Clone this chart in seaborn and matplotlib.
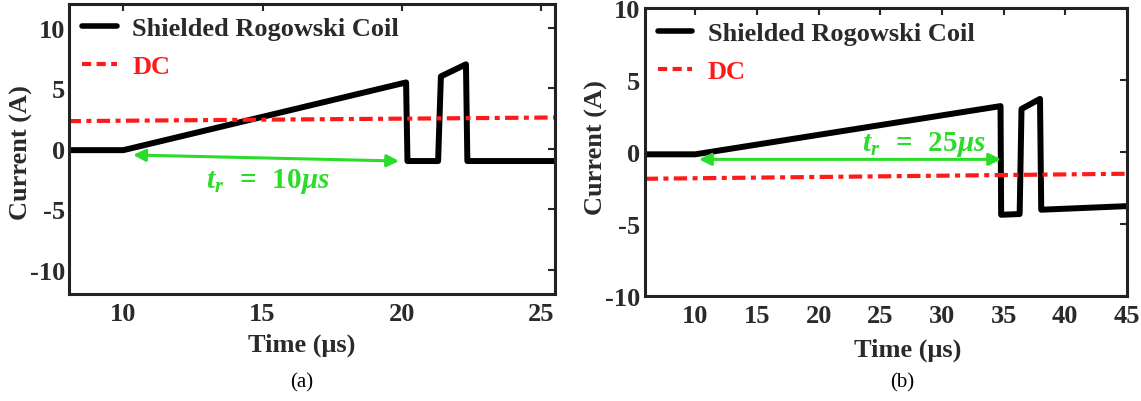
import numpy as np
import pandas as pd
import seaborn as sns
import matplotlib
matplotlib.use("Agg")
import matplotlib.pyplot as plt
from matplotlib.lines import Line2D

sns.set_theme(style="white")
plt.rcParams['font.family'] = ['Liberation Serif', 'DejaVu Serif']
plt.rcParams['font.weight'] = 'bold'
plt.rcParams['axes.unicode_minus'] = False
plt.rcParams['mathtext.fontset'] = 'custom'
plt.rcParams['mathtext.bfit'] = 'Liberation Serif:italic:bold'
plt.rcParams['mathtext.bf'] = 'Liberation Serif:bold'
plt.rcParams['mathtext.rm'] = 'Liberation Serif:bold'

# ---------------- data ----------------
# panel (a)
a_time = [8.0, 10.0, 20.15, 20.2, 21.3, 21.4, 22.3, 22.35, 25.5]
a_current = [-0.1, -0.1, 5.5, -1.0, -1.0, 6.0, 7.0, -1.0, -1.0]
a_dc_time = [8.0, 25.5]
a_dc_current = [2.3, 2.6]
a_tr_start, a_tr_end = 10.35, 19.9
a_tr_y = [-0.5, -1.0]
a_tr_label = r'$\mathbfit{t_r}\ \mathbf{=}\ \mathbf{10}\mathbfit{\mu s}$'

# panel (b)
b_time = [5.9, 10.0, 34.75, 34.8, 36.3, 36.45, 37.95, 38.05, 45.0]
b_current = [-0.15, -0.15, 3.2, -4.35, -4.3, 3.0, 3.7, -4.0, -3.75]
b_dc_time = [5.9, 45.0]
b_dc_current = [-1.85, -1.5]
b_tr_start, b_tr_end = 10.3, 34.8
b_tr_y = [-0.5, -0.5]
b_tr_label = r'$\mathbfit{t_r}\ \mathbf{=}\ \mathbf{25}\mathbfit{\mu s}$'

legend_labels = ['Shielded Rogowski Coil', 'DC']
x_label = 'Time (\u03bcs)'
y_label = 'Current (A)'

a_xticks = [10, 15, 20, 25]
a_yticks = [-10, -5, 0, 5, 10]
b_xticks = [10, 15, 20, 25, 30, 35, 40, 45]
b_yticks = [-10, -5, 0, 5, 10]

GREEN = '#2bdc2b'
RED = '#ff1a1a'
TXT = '#2a2a2a'

fig = plt.figure(figsize=(11.41, 4.02), dpi=100)
axA = fig.add_axes([0.0605, 0.266, 0.426, 0.722])
axB = fig.add_axes([0.565, 0.261, 0.4227, 0.716])


def draw(ax, t, c, dct, dcc, xlim, ylim, xticks, yticks, tr, tr_y, label,
         label_xy, ylab_xy, xlab_xy):
    df = pd.DataFrame({'t': t, 'c': c})
    sns.lineplot(data=df, x='t', y='c', ax=ax, color='black', lw=4.3,
                 estimator=None, sort=False, legend=False)
    dfd = pd.DataFrame({'t': dct, 'c': dcc})
    sns.lineplot(data=dfd, x='t', y='c', ax=ax, color=RED, lw=3.0,
                 estimator=None, sort=False, legend=False)
    ax.lines[-1].set_dashes([3.2, 1.3, 1.2, 1.3])
    ax.annotate('', xy=(tr[1], tr_y[1]), xytext=(tr[0], tr_y[0]),
                arrowprops=dict(arrowstyle='<|-|>', color=GREEN, lw=2.2,
                                mutation_scale=18, shrinkA=0, shrinkB=0))
    ax.text(label_xy[0], label_xy[1], label, color=GREEN, fontsize=21,
            ha='center', va='center')
    ax.set_xlim(*xlim)
    ax.set_ylim(*ylim)
    ax.set_xticks(xticks)
    ax.set_yticks(yticks)
    ax.set_xlabel(x_label, fontsize=19, fontweight='bold', color=TXT)
    ax.set_ylabel(y_label, fontsize=19, fontweight='bold', color=TXT)
    ax.yaxis.set_label_coords(*ylab_xy)
    ax.xaxis.set_label_coords(*xlab_xy)
    ax.tick_params(direction='in', length=5, width=1.5, top=True, right=True,
                   labelsize=19, labelcolor=TXT)
    ax.tick_params(axis='y', pad=3)
    ax.tick_params(axis='x', pad=6)
    for lab in ax.get_xticklabels() + ax.get_yticklabels():
        lab.set_fontweight('bold')
    for s in ax.spines.values():
        s.set_linewidth(2.2)
        s.set_color('#222222')
    handles = [Line2D([], [], color='black', lw=4.0),
               Line2D([], [], color=RED, lw=3.0, dashes=[2.2, 1.3])]
    leg = ax.legend(handles, legend_labels, loc='upper left', frameon=False,
                    prop={'family': 'Liberation Serif', 'weight': 'bold', 'size': 19},
                    handlelength=1.3, handletextpad=0.6, labelspacing=0.55,
                    borderaxespad=0.3, borderpad=0.2)
    leg.get_texts()[0].set_color(TXT)
    leg.get_texts()[1].set_color(RED)


draw(axA, a_time, a_current, a_dc_time, a_dc_current, (8.05, 25.5), (-12, 12),
     a_xticks, a_yticks, (a_tr_start, a_tr_end), a_tr_y, a_tr_label, (15.2, -2.6),
     (-0.074, 0.49), (0.479, -0.131))
draw(axB, b_time, b_current, b_dc_time, b_dc_current, (5.9, 45.0), (-10, 10),
     b_xticks, b_yticks, (b_tr_start, b_tr_end), b_tr_y, b_tr_label, (28.5, 0.6),
     (-0.0756, 0.52), (0.546, -0.1425))

fig.text(302 / 1141, 1 - 383 / 402, '(a)', fontsize=15, fontweight='normal',
         color='black', ha='center', va='center')
fig.text(902 / 1141, 1 - 383 / 402, '(b)', fontsize=15, fontweight='normal',
         color='black', ha='center', va='center')

fig.savefig('out.png', dpi=100)
